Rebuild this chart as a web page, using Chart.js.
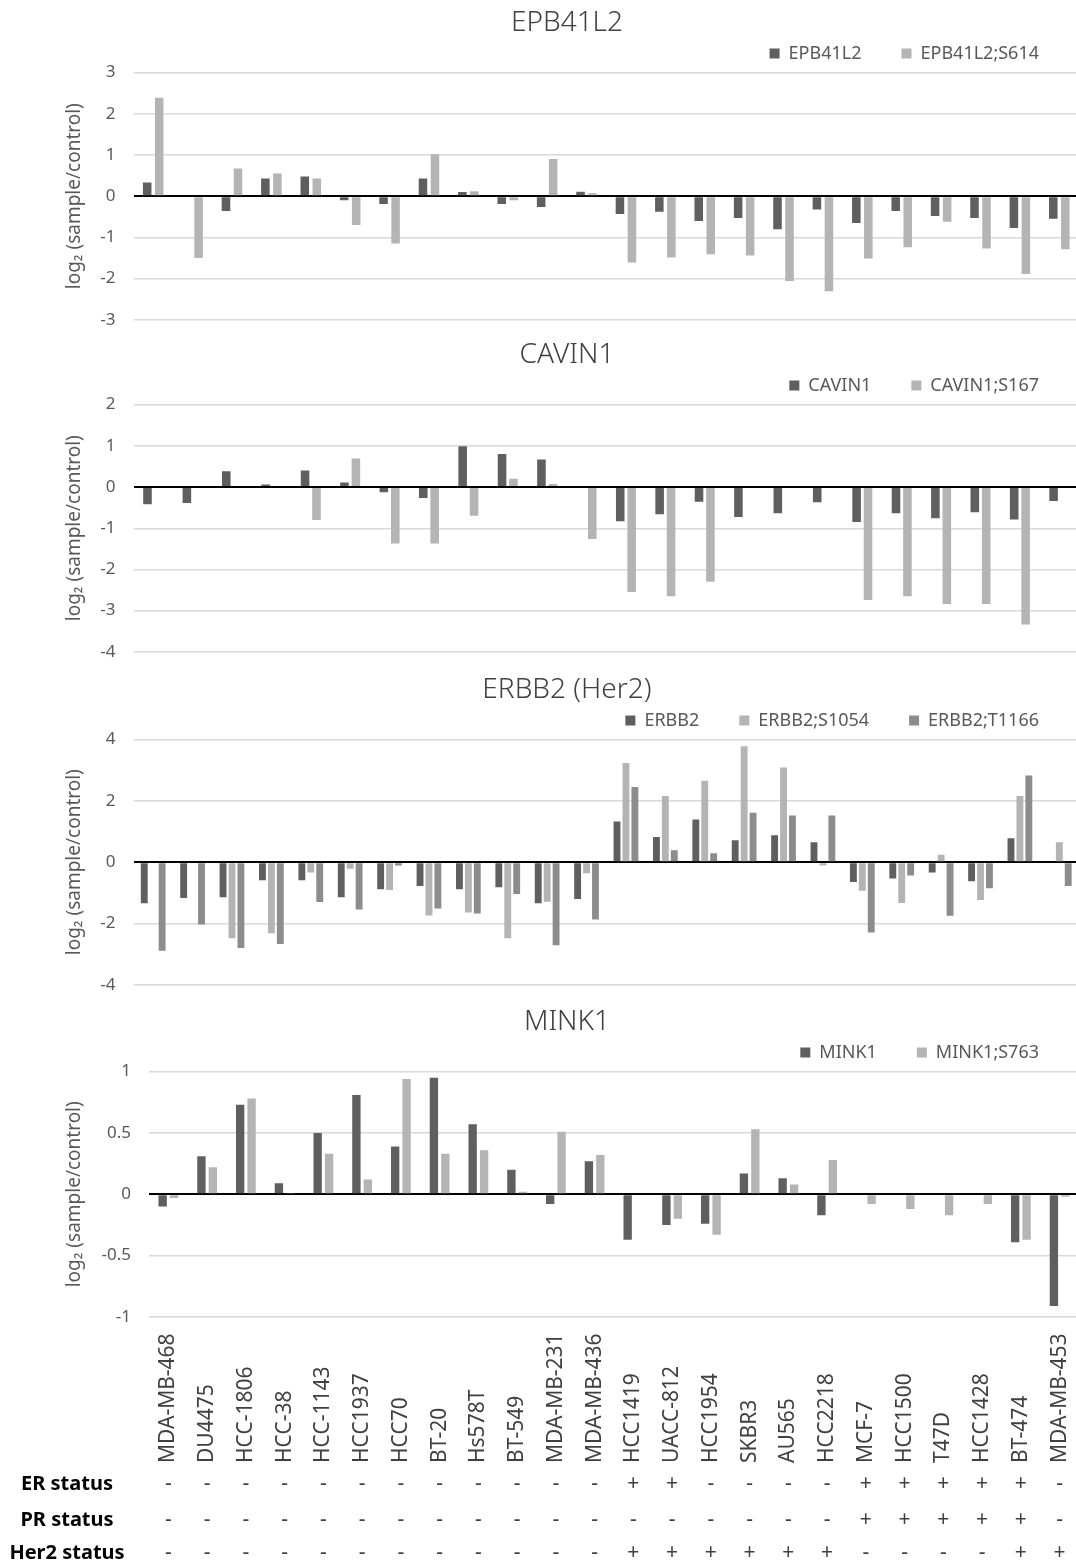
<!DOCTYPE html>
<html>
<head>
<meta charset="utf-8">
<script src="https://cdn.jsdelivr.net/npm/chart.js@4.4.1/dist/chart.umd.min.js"></script>
<style>
  html, body { margin: 0; padding: 0; background: #fff; overflow: hidden; }
  #page { position: relative; width: 1076px; height: 1567px; overflow: hidden; background: #fff; }
  #page canvas { position: absolute; left: 0; }
</style>
</head>
<body>
<div id="page">
  <canvas id="chartEpb" width="1079" height="348" style="top:0px"></canvas>
  <canvas id="chartCavin" width="1079" height="348" style="top:332px"></canvas>
  <canvas id="chartErbb2" width="1079" height="346" style="top:667px"></canvas>
  <canvas id="chartMink" width="1079" height="568" style="top:999px"></canvas>
</div>
<script>
// Cell lines (x categories) and receptor status
const categories = ['MDA-MB-468', 'DU4475', 'HCC-1806', 'HCC-38', 'HCC-1143', 'HCC1937', 'HCC70', 'BT-20',
    'Hs578T', 'BT-549', 'MDA-MB-231', 'MDA-MB-436', 'HCC1419', 'UACC-812', 'HCC1954', 'SKBR3',
    'AU565', 'HCC2218', 'MCF-7', 'HCC1500', 'T47D', 'HCC1428', 'BT-474', 'MDA-MB-453'];
const erStatus   = ['-', '-', '-', '-', '-', '-', '-', '-', '-', '-', '-', '-', '+', '+', '-', '-', '-', '-', '+', '+', '+', '+', '+', '-'];
const prStatus   = ['-', '-', '-', '-', '-', '-', '-', '-', '-', '-', '-', '-', '-', '-', '-', '-', '-', '-', '+', '+', '+', '+', '+', '-'];
const her2Status = ['-', '-', '-', '-', '-', '-', '-', '-', '-', '-', '-', '-', '+', '+', '+', '+', '+', '+', '-', '-', '-', '-', '+', '+'];

// log2 (sample/control) values
const epb41l2     = [0.33, null, -0.36, 0.43, 0.48, -0.10, -0.19, 0.43, 0.10, -0.19, -0.26, 0.11, -0.43, -0.38, -0.60, -0.53, -0.80, -0.32, -0.65, -0.36, -0.48, -0.53, -0.77, -0.55];
const epb41l2S614 = [2.39, -1.50, 0.67, 0.55, 0.43, -0.70, -1.15, 1.02, 0.12, -0.10, 0.90, 0.07, -1.61, -1.49, -1.41, -1.44, -2.06, -2.31, -1.51, -1.24, -0.62, -1.27, -1.89, -1.29];

const cavin1     = [-0.42, -0.39, 0.38, 0.06, 0.40, 0.11, -0.13, -0.27, 0.99, 0.80, 0.67, null, -0.83, -0.66, -0.36, -0.73, -0.64, -0.37, -0.85, -0.64, -0.76, -0.61, -0.79, -0.34];
const cavin1S167 = [null, null, null, null, -0.80, 0.69, -1.37, -1.37, -0.70, 0.20, 0.07, -1.26, -2.55, -2.65, -2.30, null, null, null, -2.74, -2.65, -2.84, -2.84, -3.34, null];

const erbb2      = [-1.34, -1.17, -1.14, -0.59, -0.59, -1.14, -0.88, -0.78, -0.88, -0.82, -1.34, -1.20, 1.33, 0.82, 1.39, 0.72, 0.88, 0.65, -0.65, -0.53, -0.34, -0.62, 0.78, null];
const erbb2S1054 = [null, null, -2.48, -2.32, -0.34, -0.21, -0.91, -1.74, -1.64, -2.48, -1.29, -0.36, 3.24, 2.16, 2.66, 3.78, 3.09, -0.11, -0.93, -1.33, 0.24, -1.23, 2.16, 0.65];
const erbb2T1166 = [-2.89, -2.03, -2.80, -2.67, -1.30, -1.54, -0.11, -1.51, -1.67, -1.04, -2.71, -1.87, 2.45, 0.39, 0.29, 1.61, 1.52, 1.52, -2.29, -0.43, -1.75, -0.85, 2.83, -0.78];

const mink1     = [-0.10, 0.31, 0.73, 0.09, 0.50, 0.81, 0.39, 0.95, 0.57, 0.20, -0.08, 0.27, -0.37, -0.25, -0.24, 0.17, 0.13, -0.17, null, null, null, null, -0.39, -0.91];
const mink1S763 = [-0.03, 0.22, 0.78, 0.01, 0.33, 0.12, 0.94, 0.33, 0.36, 0.02, 0.51, 0.32, null, -0.20, -0.33, 0.53, 0.08, 0.28, -0.08, -0.12, -0.17, -0.08, -0.37, -0.02];

const FONT = "'Noto Sans', 'Liberation Sans', sans-serif";
const DARK = '#5f5f5f';
const LIGHT = '#b4b4b4';
const MID = '#8c8c8c';

// Cell line names and the ER/PR/Her2 rows under the last panel
const statusTablePlugin = {
    id: 'statusTable',
    afterDraw(chart) {
        const ctx = chart.ctx;
        const xs = chart.scales.x;
        ctx.save();
        ctx.fillStyle = '#404040';
        ctx.font = `21px ${FONT}`;
        ctx.textAlign = 'left';
        ctx.textBaseline = 'middle';
        categories.forEach((name, i) => {
            const x = xs.getPixelForValue(i);
            ctx.save();
            ctx.translate(x, 464);
            ctx.rotate(-Math.PI / 2);
            ctx.fillText(name, 0, 0);
            ctx.restore();
        });

        const rows = [['ER status', erStatus, 485], ['PR status', prStatus, 521], ['Her2 status', her2Status, 554]];
        rows.forEach(([name, values, y]) => {
            ctx.fillStyle = '#000';
            ctx.font = `bold 20px ${FONT}`;
            ctx.textAlign = 'center';
            ctx.fillText(name, 67, y);
            ctx.fillStyle = '#404040';
            ctx.font = `21px ${FONT}`;
            values.forEach((v, i) => ctx.fillText(v, xs.getPixelForValue(i), y));
        });
        ctx.restore();
    }
};

function makePanel(canvasId, title, series, yMin, yMax, step, opts) {
    const datasets = series.map(s => ({
        label: s.label,
        data: s.data,
        backgroundColor: s.color,
        borderWidth: 0,
        categoryPercentage: opts.catPct,
        barPercentage: opts.barPct
    }));

    return new Chart(document.getElementById(canvasId), {
        type: 'bar',
        data: { labels: categories, datasets: datasets },
        options: {
            responsive: false,
            animation: false,
            layout: { padding: { left: 55, right: 0, top: 0, bottom: opts.bottom } },
            plugins: {
                title: {
                    display: true,
                    text: title,
                    color: '#404040',
                    font: { family: FONT, size: 28, weight: '300' },
                    padding: { top: 6, bottom: -35 }
                },
                legend: {
                    position: 'top',
                    align: 'end',
                    labels: {
                        boxWidth: 10,
                        boxHeight: 10,
                        padding: 40,
                        color: '#595959',
                        font: { family: FONT, size: 18 }
                    }
                },
                tooltip: { enabled: false }
            },
            scales: {
                x: { display: false },
                y: {
                    min: yMin,
                    max: yMax,
                    afterFit: scale => { scale.width = opts.axisWidth; },
                    ticks: {
                        stepSize: step,
                        padding: 18,
                        color: '#595959',
                        font: { family: FONT, size: 17 },
                        callback: v => String(v)
                    },
                    grid: {
                        drawTicks: false,
                        color: c => (c.tick && c.tick.value === 0 ? '#000000' : '#d9d9d9'),
                        lineWidth: c => (c.tick && c.tick.value === 0 ? 2 : 1.4)
                    },
                    border: { display: false },
                    title: {
                        display: true,
                        text: 'log₂ (sample/control)',
                        color: '#595959',
                        font: { family: FONT, size: 19 },
                        padding: { top: 8, bottom: 0 }
                    }
                }
            }
        },
        plugins: opts.plugins || []
    });
}

makePanel('chartEpb', 'EPB41L2', [
    { label: 'EPB41L2', data: epb41l2, color: DARK },
    { label: 'EPB41L2;S614', data: epb41l2S614, color: LIGHT }
], -3, 3, 1, { axisWidth: 78.5, bottom: 0, catPct: 0.61, barPct: 0.71 });

makePanel('chartCavin', 'CAVIN1', [
    { label: 'CAVIN1', data: cavin1, color: DARK },
    { label: 'CAVIN1;S167', data: cavin1S167, color: LIGHT }
], -4, 2, 1, { axisWidth: 78.5, bottom: 0, catPct: 0.58, barPct: 0.75 });

makePanel('chartErbb2', 'ERBB2 (Her2)', [
    { label: 'ERBB2', data: erbb2, color: DARK },
    { label: 'ERBB2;S1054', data: erbb2S1054, color: LIGHT },
    { label: 'ERBB2;T1166', data: erbb2T1166, color: MID }
], -4, 4, 2, { axisWidth: 78.5, bottom: 0, catPct: 0.68, barPct: 0.77 });

makePanel('chartMink', 'MINK1', [
    { label: 'MINK1', data: mink1, color: DARK },
    { label: 'MINK1;S763', data: mink1S763, color: LIGHT }
], -1, 1, 0.5, { axisWidth: 94, bottom: 250, catPct: 0.59, barPct: 0.73, plugins: [statusTablePlugin] });
</script>
</body>
</html>
